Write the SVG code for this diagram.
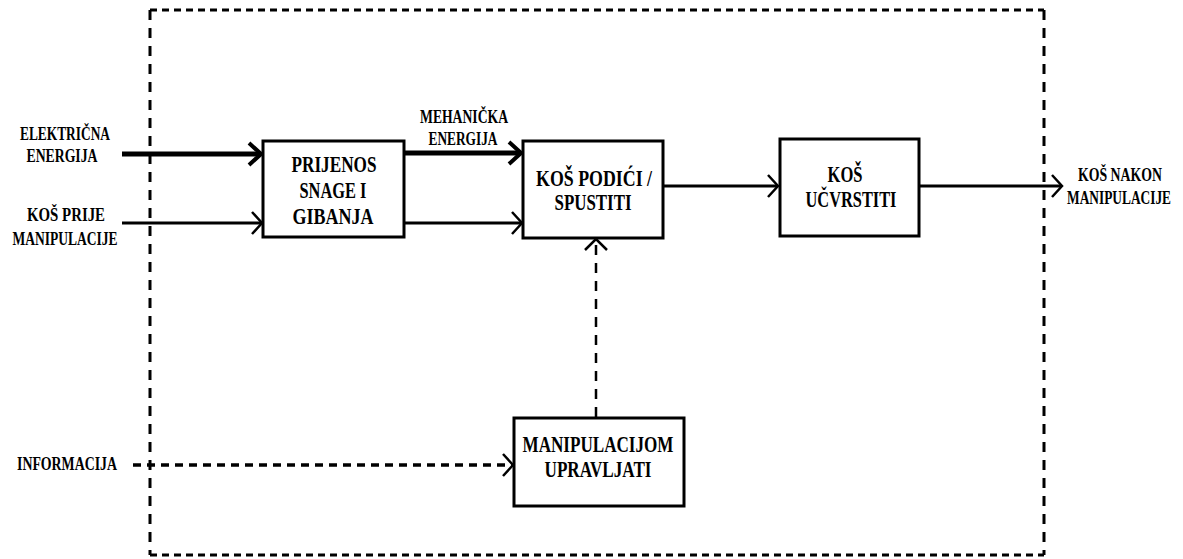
<svg xmlns="http://www.w3.org/2000/svg" width="1183" height="559" viewBox="0 0 1183 559">
<style>
  .box { fill: #fff; stroke: #000; stroke-width: 3; }
  .t { font-family: 'Liberation Serif', 'DejaVu Serif', serif; font-weight: 700; fill: #000; text-anchor: middle; }
  .lbl { font-size: 18px; }
  .bt { font-size: 23px; }
  .thick { stroke: #000; stroke-width: 5; fill: none; }
  .thin { stroke: #000; stroke-width: 3; fill: none; }
  .dash { stroke: #000; stroke-width: 3.5; fill: none; stroke-dasharray: 8 6; }
  .vdash { stroke: #000; stroke-width: 2.5; fill: none; stroke-dasharray: 10 8; }
  .border { stroke: #000; stroke-width: 3; fill: none; }
</style>
<defs>
  <marker id="ahThick" markerUnits="userSpaceOnUse" viewBox="-16 -14 18 28" markerWidth="18" markerHeight="28" refX="0" refY="0" orient="auto">
    <path d="M-12,-11 L0,0 L-12,11" fill="none" stroke="#000" stroke-width="4"/>
  </marker>
  <marker id="ahThin" markerUnits="userSpaceOnUse" viewBox="-16 -14 18 28" markerWidth="18" markerHeight="28" refX="0" refY="0" orient="auto">
    <path d="M-10,-11 L0,0 L-10,11" fill="none" stroke="#000" stroke-width="2.5"/>
  </marker>
</defs>
<rect width="1183" height="559" fill="#fff"/>

<g id="boundary">
  <line class="border" x1="150" y1="10" x2="1044" y2="10" stroke-dasharray="7 5"/>
  <line class="border" x1="150" y1="555" x2="1044" y2="555" stroke-dasharray="7 5"/>
  <line class="border" x1="150" y1="10" x2="150" y2="555" stroke-dasharray="10 8"/>
  <line class="border" x1="1044" y1="10" x2="1044" y2="555" stroke-dasharray="10 8"/>
</g>

<g id="connectors">
  <line class="thick" x1="122" y1="154" x2="261" y2="154" marker-end="url(#ahThick)"/>
  <line class="thin" x1="122" y1="223" x2="262" y2="223" marker-end="url(#ahThin)"/>
  <line class="thick" x1="404" y1="153" x2="521" y2="153" marker-end="url(#ahThick)"/>
  <line class="thin" x1="404" y1="223" x2="522" y2="223" marker-end="url(#ahThin)"/>
  <line class="thin" x1="663" y1="186" x2="778" y2="186" marker-end="url(#ahThin)"/>
  <line class="thin" x1="919" y1="186" x2="1062" y2="186" marker-end="url(#ahThin)"/>
  <line class="dash" x1="133" y1="465" x2="512" y2="465"/>
  <path d="M503,454 L513,465 L503,476" fill="none" stroke="#000" stroke-width="2.5"/>
  <line class="vdash" x1="596" y1="417" x2="596" y2="240"/>
  <path d="M585,250 L596,239 L607,250" fill="none" stroke="#000" stroke-width="2.5"/>
</g>

<g id="labels">
  <text class="t lbl" x="65" y="140" textLength="90" lengthAdjust="spacingAndGlyphs">ELEKTRIČNA</text>
  <text class="t lbl" x="62" y="162" textLength="71" lengthAdjust="spacingAndGlyphs">ENERGIJA</text>
  <text class="t lbl" x="66" y="221" textLength="78" lengthAdjust="spacingAndGlyphs">KOŠ PRIJE</text>
  <text class="t lbl" x="65" y="245" textLength="105" lengthAdjust="spacingAndGlyphs">MANIPULACIJE</text>
  <text class="t lbl" x="464" y="123" textLength="88" lengthAdjust="spacingAndGlyphs">MEHANIČKA</text>
  <text class="t lbl" x="463" y="145" textLength="69" lengthAdjust="spacingAndGlyphs">ENERGIJA</text>
  <text class="t lbl" transform="translate(1120,181) scale(0.767,1)" x="0" y="0">KOŠ NAKON</text>
  <text class="t lbl" transform="translate(1119,204) scale(0.743,1)" x="0" y="0">MANIPULACIJE</text>
  <text class="t lbl" x="67" y="470" textLength="100" lengthAdjust="spacingAndGlyphs">INFORMACIJA</text>
</g>

<g id="node-prijenos">
  <rect class="box" x="263" y="141" width="141" height="96"/>
  <text class="t bt" x="334" y="172" textLength="85" lengthAdjust="spacingAndGlyphs">PRIJENOS</text>
  <text class="t bt" x="333" y="198" textLength="67" lengthAdjust="spacingAndGlyphs">SNAGE I</text>
  <text class="t bt" x="333" y="224" textLength="81" lengthAdjust="spacingAndGlyphs">GIBANJA</text>
</g>

<g id="node-podici">
  <rect class="box" x="523" y="141" width="140" height="97"/>
  <text class="t bt" x="594" y="186" textLength="116" lengthAdjust="spacingAndGlyphs">KOŠ PODIĆI /</text>
  <text class="t bt" x="593" y="210" textLength="77" lengthAdjust="spacingAndGlyphs">SPUSTITI</text>
</g>

<g id="node-ucvrstiti">
  <rect class="box" x="780" y="139" width="139" height="97"/>
  <text class="t bt" x="845" y="182" textLength="35" lengthAdjust="spacingAndGlyphs">KOŠ</text>
  <text class="t bt" x="851" y="207" textLength="91" lengthAdjust="spacingAndGlyphs">UČVRSTITI</text>
</g>

<g id="node-manipulacijom">
  <rect class="box" x="514" y="418" width="170" height="88"/>
  <text class="t bt" x="598" y="452" textLength="151" lengthAdjust="spacingAndGlyphs">MANIPULACIJOM</text>
  <text class="t bt" x="598" y="477" textLength="107" lengthAdjust="spacingAndGlyphs">UPRAVLJATI</text>
</g>
</svg>
